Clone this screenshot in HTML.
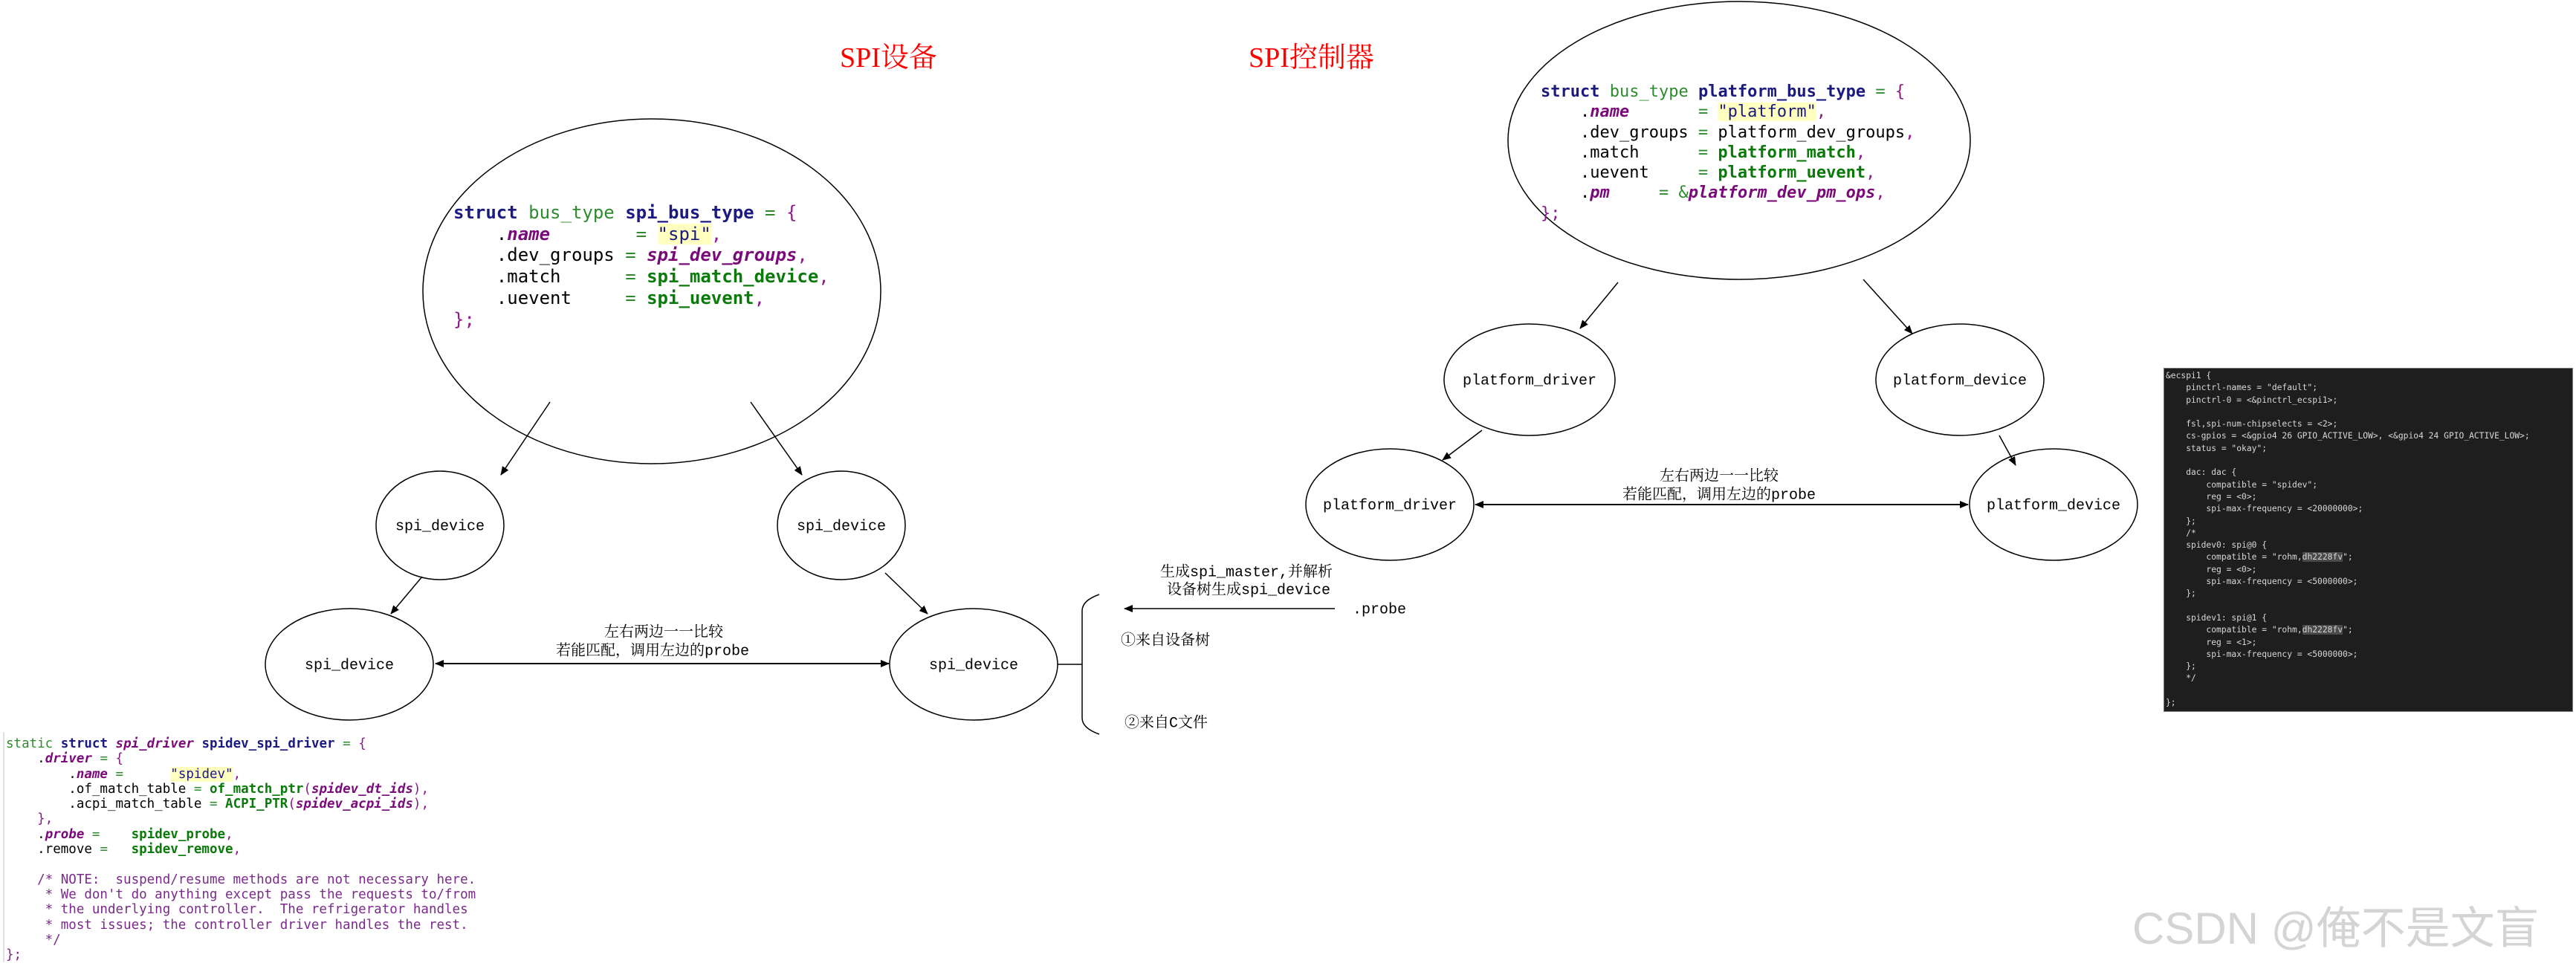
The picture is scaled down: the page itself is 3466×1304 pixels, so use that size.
<!DOCTYPE html>
<html><head><meta charset="utf-8"><style>
html,body{margin:0;padding:0;background:#fff;}
body{width:3466px;height:1304px;position:relative;overflow:hidden;}
.code{position:absolute;white-space:pre;font-family:"DejaVu Sans Mono","Liberation Mono",monospace;color:#000;}
.k{color:#1a1a80;font-weight:bold}
.t{color:#2e8b2e}
.p{color:#8a1a8a}
.pi{color:#7a0a7a;font-style:italic;font-weight:bold}
.g{color:#0a7a0a;font-weight:bold}
.s{color:#1a1a80;background:#ffffc0}
.c{color:#7a2a8a}
.dark{position:absolute;left:2911px;top:495px;width:551px;height:463px;background:#1e1e1e;border:1px solid #777;box-sizing:border-box;}
.dark .code{color:#d8d8d8;font-size:11.3px;line-height:16.3px;left:2px;top:2px;}
.hl{background:#4a4a4a}
</style></head><body>
<svg width="3466" height="1304" style="position:absolute;left:0;top:0" xmlns="http://www.w3.org/2000/svg">
<defs><marker id="a" markerWidth="12" markerHeight="10" refX="11" refY="5" orient="auto" markerUnits="userSpaceOnUse"><path d="M0,0 L12,5 L0,10 z" fill="#000"/></marker>
<marker id="as" markerWidth="12" markerHeight="10" refX="1" refY="5" orient="auto" markerUnits="userSpaceOnUse"><path d="M12,0 L0,5 L12,10 z" fill="#000"/></marker></defs>
<g fill="none" stroke="#000" stroke-width="1.5">
<ellipse cx="877" cy="392" rx="308" ry="232"/>
<ellipse cx="592" cy="707" rx="86" ry="73"/>
<ellipse cx="1132" cy="707" rx="86" ry="73"/>
<ellipse cx="470" cy="894" rx="113" ry="75"/>
<ellipse cx="1310" cy="894" rx="113" ry="75"/>
<ellipse cx="2340" cy="189" rx="311" ry="187"/>
<ellipse cx="2058" cy="511" rx="115" ry="75"/>
<ellipse cx="2637" cy="511" rx="113" ry="75"/>
<ellipse cx="1870" cy="679" rx="113" ry="75"/>
<ellipse cx="2763" cy="679" rx="113" ry="75"/>
<line x1="740" y1="541" x2="674" y2="639" marker-end="url(#a)"/>
<line x1="1010" y1="541" x2="1079" y2="639" marker-end="url(#a)"/>
<line x1="568" y1="776" x2="526" y2="826" marker-end="url(#a)"/>
<line x1="1191" y1="771" x2="1248" y2="826" marker-end="url(#a)"/>
<line x1="586" y1="893" x2="1196" y2="893" stroke-width="2" marker-start="url(#as)" marker-end="url(#a)"/>
<line x1="2177" y1="380" x2="2126" y2="442" marker-end="url(#a)"/>
<line x1="2507" y1="376" x2="2573" y2="449" marker-end="url(#a)"/>
<line x1="1994" y1="579" x2="1941" y2="619" marker-end="url(#a)"/>
<line x1="2690" y1="586" x2="2712" y2="626" marker-end="url(#a)"/>
<line x1="1985" y1="679" x2="2648" y2="679" stroke-width="2" marker-start="url(#as)" marker-end="url(#a)"/>
<line x1="1796" y1="819" x2="1513" y2="819" stroke-width="1.5" marker-end="url(#a)"/>
<path d="M1479,800 Q1456,808 1456,822 L1456,966 Q1456,980 1479,988"/>
<line x1="1423" y1="894" x2="1456" y2="894"/>
</g>
</svg>
<div style="position:absolute;left:1130px;top:46px;font:38px 'Liberation Serif','Noto Serif CJK SC',serif;color:#ff0000;">SPI设备</div>
<div style="position:absolute;left:1680px;top:46px;font:38px 'Liberation Serif','Noto Serif CJK SC',serif;color:#ff0000;">SPI控制器</div>

<div class="code" style="left:610px;top:272px;font-size:24px;line-height:28.7px;"><span class="k">struct</span> <span class="t">bus_type</span> <span class="k">spi_bus_type</span> <span class="t">=</span> <span class="p">{</span>
    .<span class="pi">name</span>        <span class="t">=</span> <span class="s">"spi"</span><span class="p">,</span>
    .dev_groups <span class="t">=</span> <span class="pi">spi_dev_groups</span><span class="p">,</span>
    .match      <span class="t">=</span> <span class="g">spi_match_device</span><span class="p">,</span>
    .uevent     <span class="t">=</span> <span class="g">spi_uevent</span><span class="p">,</span>
<span class="p">};</span></div>

<div class="code" style="left:2073px;top:110px;font-size:22px;line-height:27.3px;"><span class="k">struct</span> <span class="t">bus_type</span> <span class="k">platform_bus_type</span> <span class="t">=</span> <span class="p">{</span>
    .<span class="pi">name</span>       <span class="t">=</span> <span class="s">"platform"</span><span class="p">,</span>
    .dev_groups <span class="t">=</span> platform_dev_groups<span class="p">,</span>
    .match      <span class="t">=</span> <span class="g">platform_match</span><span class="p">,</span>
    .uevent     <span class="t">=</span> <span class="g">platform_uevent</span><span class="p">,</span>
    .<span class="pi">pm</span>     <span class="t">=</span> <span class="t">&amp;</span><span class="pi">platform_dev_pm_ops</span><span class="p">,</span>
<span class="p">};</span></div>

<div style="position:absolute;left:4px;top:985px;width:2px;height:310px;background:#e0e0e0"></div>
<div class="code" style="left:8px;top:991px;font-size:17.5px;line-height:20.3px;"><span class="t">static</span> <span class="k">struct</span> <span class="pi">spi_driver</span> <span class="k">spidev_spi_driver</span> <span class="t">=</span> <span class="p">{</span>
    .<span class="pi">driver</span> <span class="t">=</span> <span class="p">{</span>
        .<span class="pi">name</span> <span class="t">=</span>      <span class="s">"spidev"</span><span class="p">,</span>
        .of_match_table <span class="t">=</span> <span class="g">of_match_ptr</span><span class="p">(</span><span class="pi">spidev_dt_ids</span><span class="p">),</span>
        .acpi_match_table <span class="t">=</span> <span class="g">ACPI_PTR</span><span class="p">(</span><span class="pi">spidev_acpi_ids</span><span class="p">),</span>
    <span class="p">},</span>
    .<span class="pi">probe</span> <span class="t">=</span>    <span class="g">spidev_probe</span><span class="p">,</span>
    .remove <span class="t">=</span>   <span class="g">spidev_remove</span><span class="p">,</span>

    <span class="c">/* NOTE:  suspend/resume methods are not necessary here.
     * We don't do anything except pass the requests to/from
     * the underlying controller.  The refrigerator handles
     * most issues; the controller driver handles the rest.
     */</span>
<span class="p">};</span></div>

<div class="dark"><div class="code">&amp;ecspi1 {
    pinctrl-names = "default";
    pinctrl-0 = &lt;&amp;pinctrl_ecspi1&gt;;

    fsl,spi-num-chipselects = &lt;2&gt;;
    cs-gpios = &lt;&amp;gpio4 26 GPIO_ACTIVE_LOW&gt;, &lt;&amp;gpio4 24 GPIO_ACTIVE_LOW&gt;;
    status = "okay";

    dac: dac {
        compatible = "spidev";
        reg = &lt;0&gt;;
        spi-max-frequency = &lt;20000000&gt;;
    };
    /*
    spidev0: spi@0 {
        compatible = "rohm,<span class="hl">dh2228fv</span>";
        reg = &lt;0&gt;;
        spi-max-frequency = &lt;5000000&gt;;
    };

    spidev1: spi@1 {
        compatible = "rohm,<span class="hl">dh2228fv</span>";
        reg = &lt;1&gt;;
        spi-max-frequency = &lt;5000000&gt;;
    };
    */

};</div></div>

<svg width="3466" height="1304" style="position:absolute;left:0;top:0" xmlns="http://www.w3.org/2000/svg" font-family="'Liberation Mono','Noto Serif CJK SC',monospace" fill="#000">
<g font-size="20" text-anchor="middle" dominant-baseline="middle">
<text x="592" y="708">spi_device</text>
<text x="1132" y="708">spi_device</text>
<text x="470" y="895">spi_device</text>
<text x="1310" y="895">spi_device</text>
<text x="2058" y="512">platform_driver</text>
<text x="2637" y="512">platform_device</text>
<text x="1870" y="680">platform_driver</text>
<text x="2763" y="680">platform_device</text>
<text x="893" y="851">左右两边一一比较</text>
<text x="878" y="876">若能匹配，调用左边的probe</text>
<text x="2313" y="641">左右两边一一比较</text>
<text x="2313" y="666">若能匹配，调用左边的probe</text>
<text x="1677" y="770">生成spi_master,并解析</text>
<text x="1680" y="794">设备树生成spi_device</text>
</g>
<g font-size="20" dominant-baseline="middle">
<text x="1820" y="820">.probe</text>
<text x="1508" y="862">①来自设备树</text>
<text x="1513" y="973">②来自C文件</text>
</g>
<text x="2869" y="1270" font-family="'Liberation Sans','Noto Sans CJK SC',sans-serif" font-size="60" fill="#d4d4d4">CSDN @俺不是文盲</text>
</svg>
</body></html>
